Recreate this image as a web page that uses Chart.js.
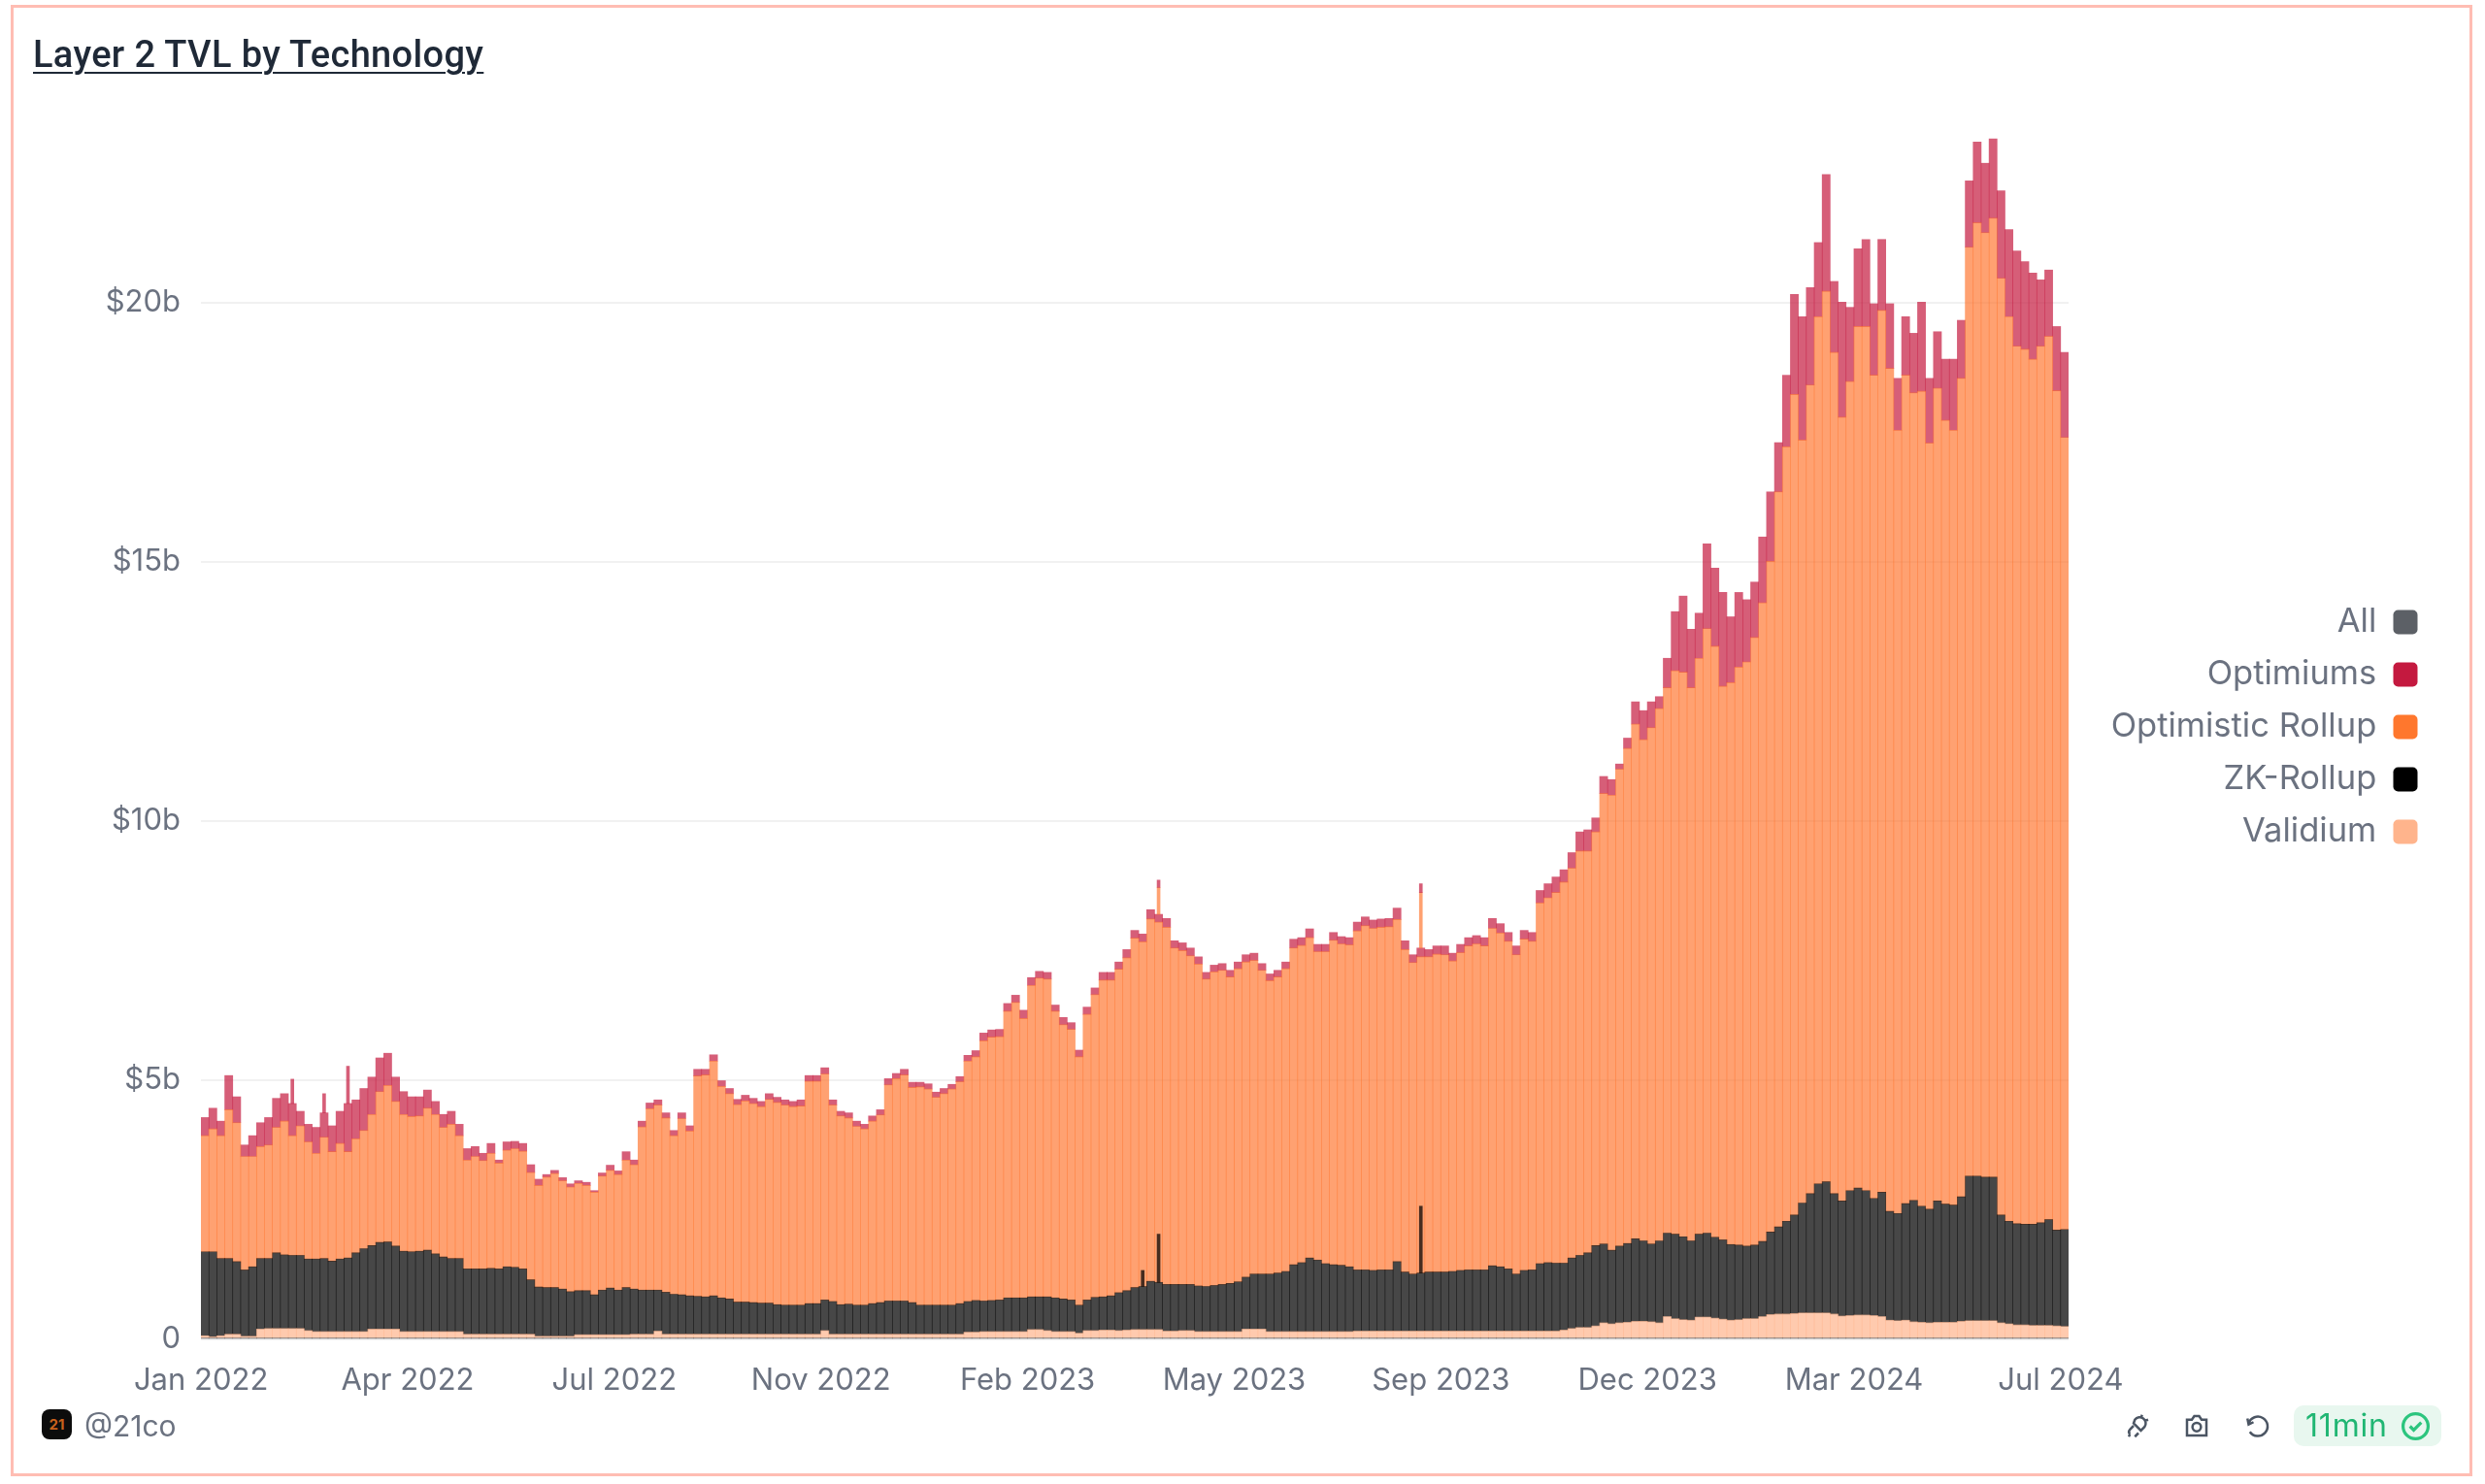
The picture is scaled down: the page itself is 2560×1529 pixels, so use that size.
<!DOCTYPE html>
<html lang="en">
<head>
<meta charset="UTF-8">
<title>Layer 2 TVL by Technology</title>
<script src="https://cdn.jsdelivr.net/npm/chart.js"></script>
<style>
    html, body { margin: 0; background: #fff; }
    #frame { position: absolute; left: 11px; top: 5px; width: 2530px; height: 1510px; border: 3px solid #ffbdb3; }
    canvas { position: absolute; left: 0; top: 0; filter: blur(0.7px); }
    h1 { position: absolute; left: 34px; top: 34px; margin: 0; font: 500 38px Roboto, sans-serif; letter-spacing: 0.35px; color: #1f2937; text-decoration: underline; text-underline-offset: 5px; text-decoration-thickness: 2px; }
    .logo { position: absolute; left: 43px; top: 1452px; width: 31px; height: 31px; border-radius: 8px; background: #0c0c0c; color: #c8611c; font: 700 15px/31px Inter, sans-serif; text-align: center; }
    .handle { position: absolute; left: 87px; top: 1451px; font: 400 30px/36px Inter, sans-serif; color: #6b7280; }
    .icon { position: absolute; top: 1454px; width: 30px; height: 30px; fill: none; stroke: #4b5563; stroke-width: 2; }
    .pill { position: absolute; left: 2363px; top: 1448px; width: 152px; height: 42px; border-radius: 10px; background: #e8f7ef; color: #20b673; font: 400 32px/42px Inter, sans-serif; letter-spacing: 0.8px; }
    .pill span { position: absolute; left: 12px; }
    .pill svg { position: absolute; left: 110px; top: 6px; width: 31px; height: 31px; fill: none; stroke: #2cc57e; stroke-width: 2.5; }
</style>
</head>
<body>
<div id="frame"></div>
<canvas id="tvlChart" width="2560" height="1529"></canvas>
<h1>Layer 2 TVL by Technology</h1>
<div class="logo">21</div>
<div class="handle">@21co</div>
<svg class="icon" style="left:2188px" viewBox="0 0 24 24"><path d="M15 3l-1 3M20 7l-3 1M9 7a5 5 0 0 1 8 6l-3 3-6-6zM8 12l-3 3a3 3 0 0 0 0 4M5 19l-1 2M12 18l-3 3"/></svg>
<svg class="icon" style="left:2248px" viewBox="0 0 24 24"><path d="M4 7h4l2-3h4l2 3h4v13H4z"/><circle cx="12" cy="13" r="3.5"/></svg>
<svg class="icon" style="left:2309px" viewBox="0 0 24 24"><path d="M5 6l1 5 4-2M6 10a8 8 0 1 1 1 7"/></svg>
<div class="pill"><span>11min</span><svg viewBox="0 0 24 24"><circle cx="12" cy="12" r="10"/><path d="M7.5 12l3 3 6-6"/></svg></div>

<script>
    // Tick labels, one every 26 bars
    const xTicks = ['Jan 2022', 'Apr 2022', 'Jul 2022', 'Nov 2022', 'Feb 2023', 'May 2023', 'Sep 2023', 'Dec 2023', 'Mar 2024', 'Jul 2024'];
    const yMax = 23.63;

    // Values in $b: upper edge of each band in the stack
    const allTop = [
        .03,.03,.03,.03,.03,.03,.03,.03,.03,.03,.03,.03,.03,.03,.03,.03,.03,.03,.03,.03,.03,.03,.03,.03,.03,.03,
        .03,.03,.03,.03,.03,.03,.03,.03,.03,.03,.03,.03,.03,.03,.03,.03,.03,.03,.03,.03,.03,.03,.03,.03,.03,.03,
        .03,.03,.03,.03,.03,.03,.03,.03,.03,.03,.03,.03,.03,.03,.03,.03,.03,.03,.03,.03,.03,.03,.03,.03,.03,.03,
        .03,.03,.03,.03,.03,.03,.03,.03,.03,.03,.03,.03,.03,.03,.03,.03,.03,.03,.03,.03,.03,.03,.03,.03,.03,.03,
        .03,.03,.03,.03,.03,.03,.03,.03,.03,.03,.03,.03,.03,.03,.03,.03,.03,.03,.03,.03,.03,.03,.03,.03,.03,.03,
        .03,.03,.03,.03,.03,.03,.03,.03,.03,.03,.03,.03,.03,.03,.03,.03,.03,.03,.03,.03,.03,.03,.03,.03,.03,.03,
        .03,.03,.03,.03,.03,.03,.03,.03,.03,.03,.03,.03,.03,.03,.03,.03,.03,.03,.03,.03,.03,.03,.03,.03,.03,.03,
        .03,.03,.03,.03,.03,.03,.03,.03,.03,.03,.03,.03,.03,.03,.03,.03,.03,.03,.03,.03,.03,.03,.03,.03,.03,.03,
        .03,.03,.03,.03,.03,.03,.03,.03,.03,.03,.03,.03,.03,.03,.03,.03,.03,.03,.03,.03,.03,.03,.03,.03,.03,.03,.03
    ];
    const validiumTop = [
        .07,.05,.07,.10,.10,.06,.06,.20,.21,.21,.21,.21,.21,.17,.15,.15,.15,.15,.15,.15,.15,.20,.20,.20,.20,.15,
        .15,.15,.15,.15,.15,.15,.15,.10,.10,.10,.10,.10,.10,.10,.10,.10,.06,.06,.06,.06,.06,.09,.09,.09,.09,.09,
        .09,.09,.10,.10,.10,.16,.10,.10,.10,.10,.10,.10,.10,.10,.10,.10,.10,.10,.10,.10,.10,.10,.10,.10,.10,.10,
        .17,.10,.10,.10,.10,.10,.10,.10,.10,.10,.10,.10,.10,.10,.10,.10,.10,.10,.14,.14,.15,.15,.15,.15,.15,.15,
        .19,.19,.17,.15,.15,.15,.12,.17,.17,.18,.18,.17,.18,.19,.19,.19,.19,.16,.16,.17,.17,.15,.15,.15,.15,.15,
        .15,.20,.20,.20,.15,.15,.15,.15,.15,.15,.15,.15,.15,.15,.15,.16,.16,.16,.16,.16,.16,.16,.16,.16,.16,.16,
        .16,.16,.16,.16,.16,.16,.16,.16,.16,.16,.16,.16,.16,.16,.16,.18,.21,.23,.23,.26,.32,.30,.32,.33,.35,.35,
        .34,.32,.44,.40,.38,.37,.43,.43,.41,.39,.37,.38,.40,.40,.44,.48,.49,.49,.50,.51,.51,.51,.51,.49,.45,.46,
        .47,.47,.46,.44,.37,.36,.37,.34,.33,.32,.33,.33,.33,.35,.36,.36,.36,.36,.32,.30,.28,.28,.27,.27,.27,.26,.25
    ];
    const zkRollupTop = [
        1.69,1.69,1.56,1.56,1.50,1.34,1.40,1.56,1.56,1.67,1.63,1.62,1.62,1.55,1.55,1.56,1.51,1.55,1.57,1.67,1.75,1.81,1.87,1.88,1.80,1.70,
        1.69,1.70,1.72,1.65,1.59,1.56,1.56,1.36,1.36,1.36,1.37,1.36,1.40,1.39,1.36,1.15,1.01,1.00,1.00,.97,.92,.94,.94,.86,.95,.99,
        .95,1.00,.97,.95,.95,.95,.91,.87,.86,.84,.83,.82,.84,.80,.78,.72,.72,.71,.70,.70,.67,.66,.66,.66,.69,.69,
        .76,.73,.67,.68,.66,.66,.69,.71,.74,.74,.74,.71,.66,.66,.66,.66,.66,.69,.73,.75,.74,.75,.76,.80,.80,.80,
        .82,.82,.82,.80,.78,.76,.66,.76,.81,.82,.84,.90,.94,1.00,1.02,1.12,1.10,1.06,1.06,1.06,1.06,1.03,1.02,1.04,1.06,1.08,
        1.11,1.20,1.26,1.26,1.26,1.28,1.31,1.44,1.48,1.57,1.53,1.46,1.44,1.43,1.40,1.34,1.34,1.33,1.34,1.34,1.50,1.30,1.26,1.28,1.30,1.30,
        1.30,1.31,1.33,1.34,1.34,1.34,1.42,1.40,1.36,1.26,1.33,1.34,1.46,1.48,1.47,1.47,1.57,1.62,1.67,1.81,1.84,1.72,1.80,1.85,1.94,1.90,
        1.84,1.90,2.05,2.03,1.98,1.90,2.03,2.05,1.97,1.92,1.83,1.82,1.80,1.82,1.89,2.07,2.17,2.28,2.40,2.63,2.81,3.00,3.04,2.81,2.67,2.87,
        2.92,2.87,2.72,2.84,2.47,2.43,2.62,2.68,2.57,2.51,2.67,2.61,2.59,2.75,3.15,3.15,3.13,3.13,2.40,2.28,2.23,2.22,2.22,2.25,2.31,2.11,2.12
    ];
    const optimisticTop = [
        3.93,4.06,3.93,4.43,4.18,3.53,3.53,3.72,3.75,4.09,4.21,3.93,4.12,3.81,3.59,3.90,3.62,3.78,3.62,3.87,4.03,4.34,4.78,4.90,4.59,4.34,
        4.30,4.31,4.46,4.34,4.09,4.15,3.93,3.46,3.53,3.45,3.59,3.40,3.65,3.68,3.63,3.22,2.97,3.13,3.20,3.06,2.94,3.01,2.97,2.84,3.15,3.26,
        3.18,3.46,3.37,4.10,4.45,4.52,4.27,3.93,4.26,4.02,5.08,5.10,5.37,4.88,4.74,4.53,4.60,4.55,4.49,4.63,4.57,4.52,4.49,4.50,4.98,4.98,
        5.12,4.52,4.31,4.27,4.11,4.06,4.21,4.33,4.91,5.03,5.10,4.86,4.87,4.83,4.67,4.74,4.83,4.97,5.37,5.45,5.76,5.83,5.84,6.33,6.50,6.19,
        6.83,6.97,6.95,6.33,6.07,5.98,5.45,6.27,6.65,6.93,6.93,7.14,7.36,7.74,7.67,8.11,8.05,7.95,7.55,7.50,7.40,7.24,6.95,7.09,7.12,6.99,
        7.15,7.28,7.31,7.12,6.92,6.99,7.15,7.55,7.60,7.75,7.48,7.48,7.70,7.63,7.61,7.88,7.98,7.93,7.95,7.96,8.10,7.52,7.27,7.38,7.38,7.43,
        7.42,7.30,7.46,7.59,7.63,7.59,7.93,7.84,7.68,7.42,7.72,7.68,8.42,8.52,8.62,8.82,9.09,9.42,9.42,9.79,10.53,10.50,11.00,11.40,11.87,11.57,
        11.80,12.17,12.57,12.90,12.87,12.57,13.14,13.71,13.37,12.60,12.67,12.97,13.07,13.54,14.21,15.01,16.35,17.22,18.23,17.35,18.41,19.73,20.22,19.04,17.79,18.48,
        19.54,19.54,18.60,19.85,18.73,17.54,18.60,18.26,18.29,17.29,18.35,17.73,17.54,18.54,21.07,21.54,21.35,21.63,20.47,19.73,19.16,19.10,18.91,19.16,19.35,18.30,17.40
    ];
    const optimiumsTop = [
        4.28,4.46,4.21,5.09,4.68,3.75,3.93,4.18,4.28,4.65,4.74,4.55,4.40,4.15,4.09,4.37,4.12,4.40,4.55,4.62,4.84,5.06,5.43,5.52,5.06,4.78,
        4.68,4.68,4.81,4.59,4.34,4.40,4.15,3.68,3.72,3.59,3.78,3.46,3.81,3.82,3.78,3.37,3.09,3.18,3.26,3.12,3.00,3.06,3.03,2.87,3.21,3.36,
        3.25,3.62,3.46,4.21,4.56,4.62,4.37,4.03,4.37,4.12,5.21,5.21,5.49,4.99,4.84,4.63,4.71,4.65,4.59,4.74,4.67,4.62,4.59,4.62,5.09,5.09,
        5.24,4.62,4.40,4.37,4.21,4.15,4.31,4.43,5.03,5.13,5.21,4.96,4.96,4.93,4.77,4.84,4.92,5.07,5.48,5.57,5.91,5.97,5.98,6.48,6.64,6.35,
        6.98,7.10,7.08,6.45,6.21,6.11,5.58,6.41,6.78,7.08,7.08,7.28,7.52,7.89,7.82,8.29,8.20,8.12,7.69,7.65,7.55,7.38,7.08,7.22,7.25,7.12,
        7.28,7.42,7.45,7.25,7.05,7.12,7.28,7.72,7.75,7.92,7.62,7.62,7.85,7.77,7.75,8.05,8.15,8.09,8.11,8.12,8.32,7.69,7.42,7.55,7.52,7.59,
        7.59,7.45,7.62,7.75,7.79,7.75,8.12,8.02,7.85,7.59,7.89,7.85,8.66,8.79,8.92,9.06,9.39,9.79,9.83,10.06,10.86,10.80,11.10,11.60,12.30,12.13,
        12.30,12.40,13.14,14.04,14.34,13.70,14.01,15.35,14.88,14.41,13.94,14.41,14.27,14.61,15.48,16.35,17.30,18.60,20.16,19.73,20.29,21.16,22.47,20.41,20.01,19.91,
        21.04,21.22,19.98,21.22,19.98,18.54,19.73,19.41,20.01,18.54,19.44,18.91,18.91,19.66,22.35,23.10,22.69,23.16,22.16,21.41,21.00,20.79,20.57,20.44,20.63,19.54,19.04
    ];

    // One-day spikes, much thinner than a bar: bar index, low and high edge
    const optimiumSpikeAt = [11, 15, 18, 120, 153];
    const optimiumSpikeLow = [4.55, 4.37, 4.55, 8.72, 8.62];
    const optimiumSpikeHigh = [5.02, 4.74, 5.27, 8.86, 8.79];
    const optimisticSpikeAt = [120, 153];
    const optimisticSpikeLow = [8.20, 7.55];
    const optimisticSpikeHigh = [8.72, 8.62];
    const zkSpikeAt = [118, 120, 153];
    const zkSpikeLow = [1.02, 1.10, 1.28];
    const zkSpikeHigh = [1.33, 2.03, 2.57];

    const categories = validiumTop.map((_, i) => i % 26 === 0 ? xTicks[i / 26] : '');
    const band = (top, below) => top.map((v, i) => v - (below ? below[i] : 0));
    const spikes = (at, low, high) => categories.map((_, i) => at.includes(i) ? [low[at.indexOf(i)], high[at.indexOf(i)]] : null);

    const legendOrder = ['All', 'Optimiums', 'Optimistic Rollup', 'ZK-Rollup', 'Validium'];
    const legendColors = { 'All': '#5c6066', 'Optimiums': '#c4193f', 'Optimistic Rollup': '#ff772d', 'ZK-Rollup': '#000000', 'Validium': '#ffb48c' };
    const fills = { all: 'rgba(70,74,80,0.55)', validium: 'rgba(255,180,140,0.7)', zk: 'rgba(0,0,0,0.72)', optimistic: 'rgba(255,112,40,0.66)', optimiums: 'rgba(196,25,63,0.7)' };

    // Puts the legend in the right margin, swatches on a fixed edge
    const legendPlacement = {
        id: 'legendPlacement',
        afterLayout(chart) {
            const legend = chart.legend;
            legend.right = 2510;
            legend.left = legend.right - legend.width;
            legend.top = chart.chartArea.top;
            legend.bottom = chart.chartArea.bottom;
        }
    };

    Chart.defaults.font.family = 'Inter, sans-serif';
    Chart.defaults.font.size = 31;
    Chart.defaults.color = '#6b7280';

    const spikeDataset = (label, data, color) => ({ label, data, backgroundColor: color, stack: label, maxBarThickness: 3, order: -1 });

    new Chart(document.getElementById('tvlChart').getContext('2d'), {
        type: 'bar',
        data: {
            labels: categories,
            datasets: [
                { label: 'All', data: allTop, backgroundColor: fills.all },
                { label: 'Validium', data: band(validiumTop, allTop), backgroundColor: fills.validium },
                { label: 'ZK-Rollup', data: band(zkRollupTop, validiumTop), backgroundColor: fills.zk },
                { label: 'Optimistic Rollup', data: band(optimisticTop, zkRollupTop), backgroundColor: fills.optimistic },
                { label: 'Optimiums', data: band(optimiumsTop, optimisticTop), backgroundColor: fills.optimiums },
                spikeDataset('spike-optimiums', spikes(optimiumSpikeAt, optimiumSpikeLow, optimiumSpikeHigh), fills.optimiums),
                spikeDataset('spike-optimistic', spikes(optimisticSpikeAt, optimisticSpikeLow, optimisticSpikeHigh), fills.optimistic),
                spikeDataset('spike-zk', spikes(zkSpikeAt, zkSpikeLow, zkSpikeHigh), fills.zk)
            ]
        },
        options: {
            responsive: false,
            animation: false,
            barPercentage: 1,
            categoryPercentage: 1,
            grouped: false,
            layout: { padding: { left: 7, right: 429, top: 118, bottom: 49 } },
            plugins: {
                tooltip: { enabled: false },
                legend: {
                    position: 'chartArea',
                    align: 'center',
                    rtl: true,
                    labels: {
                        font: { size: 34.5 },
                        boxWidth: 25,
                        boxHeight: 25,
                        padding: 19.5,
                        useBorderRadius: true,
                        borderRadius: 5,
                        filter: item => legendOrder.includes(item.text),
                        sort: (a, b) => legendOrder.indexOf(a.text) - legendOrder.indexOf(b.text),
                        generateLabels(chart) {
                            return Chart.defaults.plugins.legend.labels.generateLabels(chart).map(item => ({
                                ...item, fillStyle: legendColors[item.text], lineWidth: 0, strokeStyle: 'transparent'
                            }));
                        }
                    }
                }
            },
            scales: {
                x: {
                    stacked: true,
                    grid: { display: false },
                    border: { display: false },
                    ticks: { autoSkip: false, maxRotation: 0, padding: 16, labelOffset: -4 },
                    afterFit(scale) { scale.height = 100; scale.paddingLeft = 0; scale.paddingRight = 0; }
                },
                y: {
                    stacked: true,
                    min: 0,
                    max: yMax,
                    grid: { color: '#f1f1f1', lineWidth: 2, drawTicks: false },
                    border: { display: false },
                    ticks: {
                        stepSize: 5,
                        includeBounds: false,
                        padding: 21,
                        callback: v => v === 0 ? '0' : '$' + v + 'b'
                    },
                    afterFit(scale) { scale.width = 200; scale.paddingTop = 0; scale.paddingBottom = 0; }
                }
            }
        },
        plugins: [legendPlacement]
    });
</script>
</body>
</html>
